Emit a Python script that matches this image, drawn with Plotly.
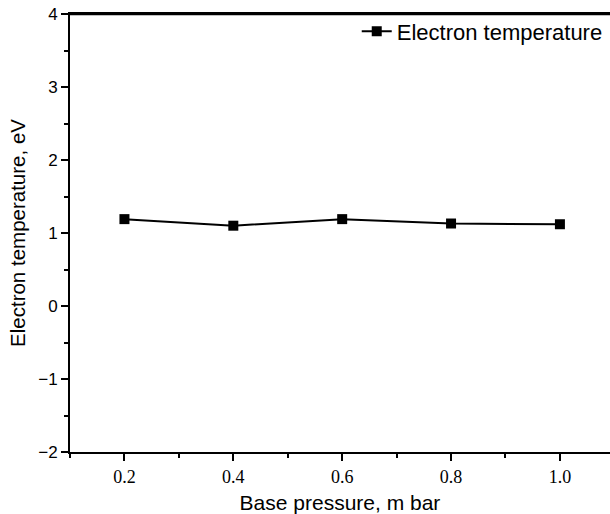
import plotly.graph_objects as go

pressure = [0.2, 0.4, 0.6, 0.8, 1.0]
electron_temp = [1.19, 1.10, 1.19, 1.13, 1.12]
x_ticks = [0.2, 0.4, 0.6, 0.8, 1.0]
x_tick_labels = ["0.2", "0.4", "0.6", "0.8", "1.0"]
y_ticks = [-2, -1, 0, 1, 2, 3, 4]
y_tick_labels = ["\u22122", "\u22121", "0", "1", "2", "3", "4"]

fig = go.Figure()
fig.add_trace(go.Scatter(
    x=pressure, y=electron_temp, mode="lines+markers",
    name="Electron temperature",
    line=dict(color="black", width=2),
    marker=dict(symbol="square", size=10, color="black"),
))

fig.update_layout(
    width=610, height=514,
    margin=dict(l=70, r=0, t=14, b=62, autoexpand=False),
    paper_bgcolor="white", plot_bgcolor="white",
    showlegend=True,
    legend=dict(x=0.531, y=1.008, xanchor="left", yanchor="top",
                font=dict(family="Liberation Sans, Arial", size=22, color="black"),
                bgcolor="rgba(0,0,0,0)", itemwidth=30),
    xaxis=dict(
        range=[0.1, 1.092], tickvals=x_ticks, ticktext=x_tick_labels,
        showgrid=False, zeroline=False, automargin=False,
        showline=True, linecolor="black", linewidth=2, mirror=True,
        ticks="outside", ticklen=7, tickwidth=2, tickcolor="black",
        minor=dict(dtick=0.1, tick0=0.1, ticks="outside", ticklen=4, tickwidth=2, tickcolor="black"),
        tickfont=dict(family="Liberation Serif, Times New Roman", size=18, color="black"),
        title=dict(text="Base pressure, m bar", standoff=10,
                   font=dict(family="Liberation Sans, Arial", size=21, color="black")),
    ),
    yaxis=dict(
        range=[-2, 4], tickvals=y_ticks, ticktext=y_tick_labels,
        showgrid=False, zeroline=False, automargin=False,
        showline=True, linecolor="black", linewidth=2, mirror=False,
        ticks="outside", ticklen=7, tickwidth=2, tickcolor="black",
        minor=dict(dtick=0.5, tick0=0, ticks="outside", ticklen=4, tickwidth=2, tickcolor="black"),
        tickfont=dict(family="Liberation Sans, Arial", size=17, color="black"),
        title=dict(text="Electron temperature, eV", standoff=7,
                   font=dict(family="Liberation Sans, Arial", size=20.5, color="black")),
    ),
    shapes=[dict(type="line", xref="paper", yref="paper", x0=0, x1=1, y0=1, y1=1,
                 line=dict(color="black", width=2.5), layer="above")],
)

fig.write_html("out.html", config={"displayModeBar": False},
               post_script="document.body.style.margin='0px';document.body.style.overflow='hidden';")
